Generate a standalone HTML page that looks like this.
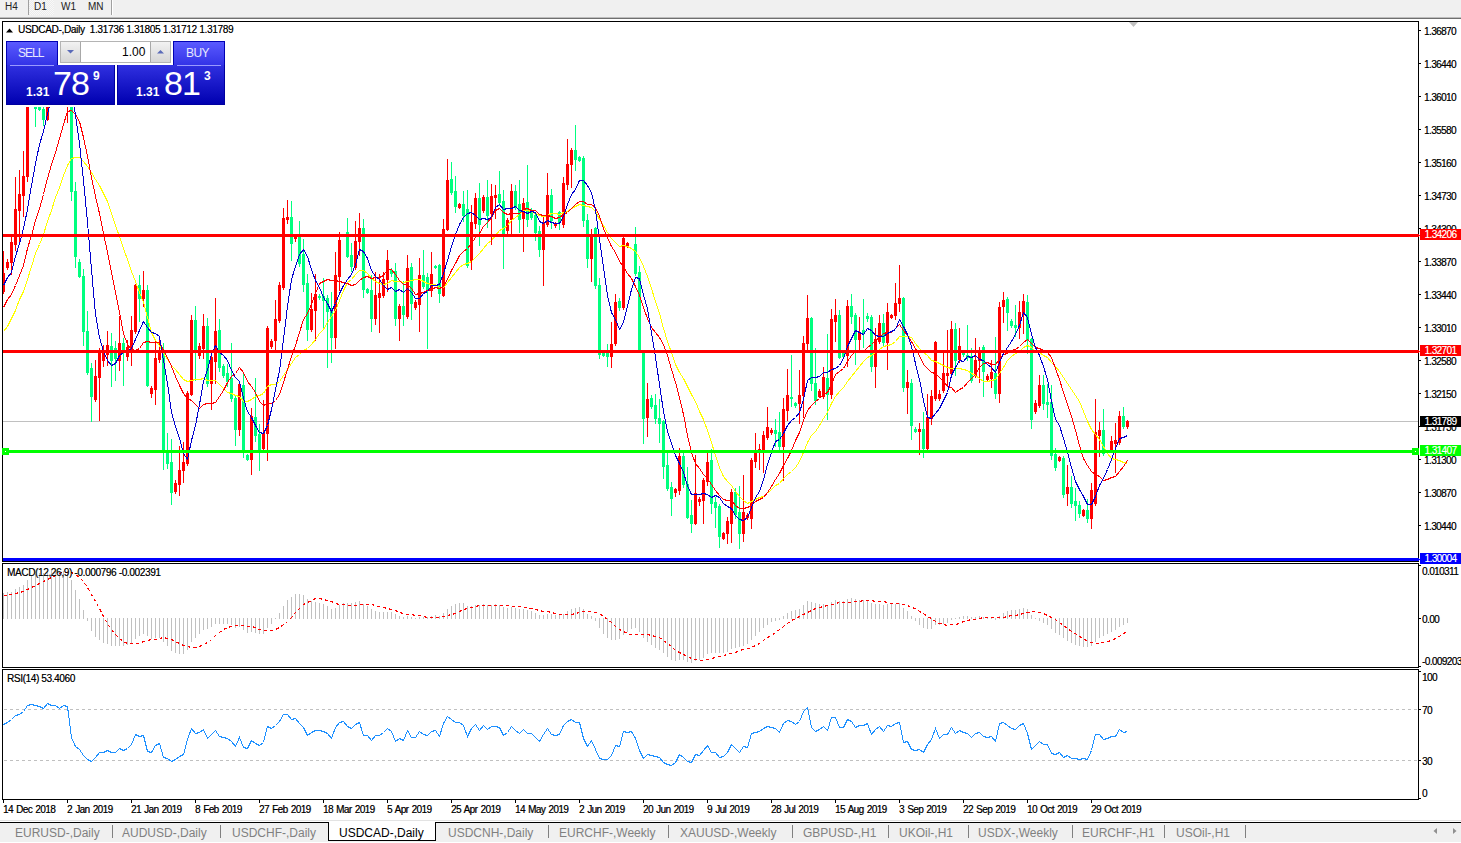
<!DOCTYPE html>
<html><head><meta charset="utf-8">
<style>
*{margin:0;padding:0;box-sizing:border-box}
html,body{width:1461px;height:843px;overflow:hidden;background:#fff}
body{position:relative;font-family:"Liberation Sans",Arial,sans-serif;color:#000}
.a{position:absolute;white-space:nowrap}
.t{position:absolute;white-space:nowrap;font-size:10px;line-height:10px;letter-spacing:-0.5px;text-shadow:0.35px 0 0 rgba(0,0,0,0.55)}
#tb{left:0;top:0;width:1461px;height:17px;background:#f0f0f0}
.tbt{position:absolute;top:2px;font-size:10px;line-height:10px;color:#222}
.ax{position:absolute;left:1424px;font-size:10px;line-height:10px;letter-spacing:-0.6px;color:#000;text-shadow:0.35px 0 0 rgba(0,0,0,0.55)}
.lb{position:absolute;left:1420px;width:41px;height:11px}
.lb span{position:absolute;left:4.5px;top:1px;font-size:10px;line-height:10px;letter-spacing:-0.6px;color:#fff;text-shadow:0.3px 0 0 rgba(255,255,255,0.5)}
.tm{position:absolute;top:805px;font-size:10px;line-height:10px;letter-spacing:-0.6px;word-spacing:1px;color:#000;text-shadow:0.35px 0 0 rgba(0,0,0,0.55)}
.tab{position:absolute;top:827px;font-size:12px;line-height:12px;color:#808080}
.sep{position:absolute;top:825px;width:1px;height:13px;background:#808080}
</style></head><body>
<!-- toolbar -->
<div class="a" id="tb"></div>
<div class="a" style="left:28px;top:0;width:1px;height:15px;background:#a0a0a0"></div>
<div class="a" style="left:29px;top:0;width:25px;height:15px;background:repeating-conic-gradient(#f8f8f8 0 25%,#ececec 0 50%) 0 0/2px 2px"></div>
<div class="a" style="left:111px;top:0;width:1px;height:15px;background:#a0a0a0"></div>
<div class="a" style="left:112px;top:0;width:1px;height:15px;background:#fff"></div>
<div class="tbt" style="left:5px">H4</div>
<div class="tbt" style="left:34px">D1</div>
<div class="tbt" style="left:61px">W1</div>
<div class="tbt" style="left:88px">MN</div>
<div class="a" style="left:0;top:17px;width:1461px;height:1px;background:#bdbdbd"></div>
<div class="a" style="left:0;top:18px;width:1461px;height:1px;background:#6f6f6f"></div>

<!-- window borders -->
<div class="a" style="left:2px;top:21px;width:1417px;height:541px;border:1px solid #000"></div>
<div class="a" style="left:2px;top:563px;width:1417px;height:105px;border:1px solid #000"></div>
<div class="a" style="left:2px;top:669px;width:1417px;height:131px;border:1px solid #000"></div>

<svg width="1461" height="843" viewBox="0 0 1461 843" style="position:absolute;left:0;top:0">
<defs><clipPath id="cm"><rect x="3" y="22" width="1415" height="539"/></clipPath>
<clipPath id="cmacd"><rect x="3" y="564" width="1415" height="103"/></clipPath>
<clipPath id="crsi"><rect x="3" y="670" width="1415" height="129"/></clipPath></defs>
<g shape-rendering="crispEdges">
<rect x="3" y="421" width="1415" height="1" fill="#c0c0c0"/>
<g clip-path="url(#cm)">
<path d="M31 90h1v17h-1zM30 103h3v3h-3zM35 92h1v35h-1zM34 100h3v9h-3zM39 100h1v11h-1zM38 107h3v3h-3zM43 106h1v20h-1zM42 109h3v11h-3zM51 60h1v26h-1zM50 70h3v8h-3zM59 66h1v27h-1zM58 73h3v11h-3zM71 55h1v146h-1zM70 64h3v128h-3zM75 182h1v86h-1zM74 191h3v66h-3zM79 259h1v19h-1zM78 262h3v15h-3zM83 269h1v77h-1zM82 276h3v56h-3zM87 311h1v64h-1zM86 331h3v42h-3zM91 363h1v59h-1zM90 368h3v29h-3zM111 333h1v54h-1zM110 346h3v15h-3zM115 341h1v40h-1zM114 348h3v11h-3zM123 338h1v48h-1zM122 343h3v10h-3zM139 275h1v47h-1zM138 285h3v14h-3zM147 285h1v102h-1zM146 290h3v96h-3zM163 343h1v127h-1zM162 350h3v101h-3zM167 433h1v36h-1zM166 450h3v14h-3zM171 439h1v66h-1zM170 462h3v31h-3zM195 306h1v75h-1zM194 320h3v33h-3zM207 318h1v69h-1zM206 326h3v58h-3zM219 319h1v53h-1zM218 330h3v38h-3zM223 364h1v14h-1zM222 366h3v10h-3zM227 364h1v23h-1zM226 373h3v9h-3zM231 343h1v59h-1zM230 378h3v21h-3zM235 396h1v50h-1zM234 398h3v32h-3zM243 373h1v85h-1zM242 385h3v68h-3zM247 454h1v7h-1zM246 455h3v5h-3zM255 378h1v64h-1zM254 417h3v19h-3zM259 424h1v47h-1zM258 434h3v16h-3zM291 201h1v60h-1zM290 217h3v27h-3zM299 221h1v46h-1zM298 237h3v27h-3zM303 239h1v53h-1zM302 254h3v31h-3zM307 274h1v67h-1zM306 283h3v47h-3zM319 294h1v6h-1zM318 296h3v2h-3zM323 278h1v50h-1zM322 296h3v5h-3zM327 295h1v73h-1zM326 298h3v14h-3zM331 292h1v71h-1zM330 310h3v28h-3zM343 234h1v3h-1zM342 235h3v1h-3zM347 218h1v40h-1zM346 232h3v25h-3zM351 243h1v29h-1zM350 255h3v12h-3zM363 219h1v79h-1zM362 228h3v62h-3zM367 288h1v6h-1zM366 289h3v4h-3zM371 275h1v57h-1zM370 290h3v29h-3zM391 268h1v9h-1zM390 270h3v4h-3zM395 263h1v63h-1zM394 271h3v48h-3zM403 281h1v45h-1zM402 306h3v9h-3zM411 263h1v57h-1zM410 267h3v37h-3zM423 250h1v39h-1zM422 275h3v12h-3zM427 273h1v76h-1zM426 277h3v14h-3zM435 265h1v4h-1zM434 266h3v2h-3zM439 264h1v39h-1zM438 265h3v29h-3zM451 162h1v33h-1zM450 179h3v14h-3zM455 176h1v37h-1zM454 191h3v16h-3zM463 191h1v31h-1zM462 204h3v12h-3zM467 190h1v78h-1zM466 209h3v57h-3zM479 183h1v63h-1zM478 198h3v27h-3zM487 180h1v48h-1zM486 197h3v19h-3zM499 171h1v35h-1zM498 194h3v9h-3zM503 190h1v79h-1zM502 201h3v34h-3zM515 185h1v25h-1zM514 191h3v16h-3zM519 180h1v53h-1zM518 204h3v16h-3zM527 165h1v62h-1zM526 202h3v18h-3zM531 208h1v12h-1zM530 210h3v8h-3zM535 212h1v29h-1zM534 215h3v18h-3zM539 226h1v31h-1zM538 231h3v19h-3zM551 189h1v40h-1zM550 195h3v26h-3zM559 211h1v19h-1zM558 212h3v11h-3zM575 125h1v46h-1zM574 150h3v10h-3zM579 156h1v6h-1zM578 157h3v4h-3zM583 156h1v71h-1zM582 158h3v63h-3zM587 214h1v54h-1zM586 220h3v39h-3zM595 227h1v62h-1zM594 228h3v58h-3zM599 278h1v81h-1zM598 285h3v70h-3zM603 352h1v5h-1zM602 353h3v3h-3zM607 344h1v23h-1zM606 352h3v5h-3zM619 298h1v13h-1zM618 301h3v7h-3zM631 234h1v3h-1zM630 235h3v1h-3zM635 227h1v49h-1zM634 244h3v30h-3zM639 266h1v87h-1zM638 272h3v79h-3zM643 350h1v94h-1zM642 350h3v69h-3zM651 395h1v14h-1zM650 398h3v9h-3zM655 394h1v30h-1zM654 405h3v14h-3zM659 399h1v44h-1zM658 418h3v6h-3zM663 420h1v59h-1zM662 421h3v46h-3zM667 453h1v38h-1zM666 465h3v24h-3zM671 482h1v34h-1zM670 487h3v12h-3zM683 451h1v37h-1zM682 456h3v29h-3zM687 467h1v52h-1zM686 484h3v34h-3zM691 500h1v33h-1zM690 515h3v9h-3zM711 449h1v65h-1zM710 460h3v44h-3zM715 497h1v31h-1zM714 502h3v6h-3zM719 504h1v44h-1zM718 506h3v31h-3zM735 488h1v31h-1zM734 492h3v23h-3zM739 486h1v63h-1zM738 512h3v22h-3zM775 419h1v28h-1zM774 430h3v4h-3zM779 412h1v38h-1zM778 432h3v15h-3zM791 355h1v52h-1zM790 397h3v2h-3zM795 402h1v6h-1zM794 403h3v3h-3zM811 317h1v74h-1zM810 318h3v66h-3zM815 348h1v57h-1zM814 383h3v18h-3zM827 334h1v86h-1zM826 378h3v17h-3zM839 310h1v49h-1zM838 315h3v43h-3zM843 352h1v7h-1zM842 353h3v4h-3zM851 294h1v30h-1zM850 306h3v11h-3zM855 313h1v52h-1zM854 315h3v25h-3zM863 299h1v49h-1zM862 330h3v3h-3zM867 313h1v9h-1zM866 316h3v3h-3zM871 315h1v57h-1zM870 317h3v50h-3zM883 314h1v32h-1zM882 323h3v20h-3zM903 297h1v95h-1zM902 298h3v90h-3zM911 379h1v61h-1zM910 383h3v43h-3zM915 427h1v6h-1zM914 429h3v3h-3zM923 412h1v46h-1zM922 429h3v20h-3zM955 323h1v53h-1zM954 329h3v32h-3zM963 350h1v7h-1zM962 352h3v3h-3zM967 325h1v36h-1zM966 355h3v3h-3zM971 348h1v35h-1zM970 356h3v25h-3zM983 345h1v52h-1zM982 347h3v25h-3zM995 337h1v62h-1zM994 373h3v21h-3zM1007 297h1v34h-1zM1006 299h3v14h-3zM1011 319h1v9h-1zM1010 321h3v5h-3zM1015 305h1v32h-1zM1014 325h3v3h-3zM1027 295h1v59h-1zM1026 302h3v38h-3zM1031 338h1v91h-1zM1030 339h3v81h-3zM1043 375h1v35h-1zM1042 385h3v19h-3zM1047 384h1v34h-1zM1046 402h3v3h-3zM1051 385h1v75h-1zM1050 402h3v54h-3zM1055 448h1v23h-1zM1054 454h3v14h-3zM1063 456h1v42h-1zM1062 458h3v37h-3zM1071 476h1v32h-1zM1070 487h3v17h-3zM1075 488h1v33h-1zM1074 501h3v5h-3zM1079 501h1v17h-1zM1078 505h3v9h-3zM1087 499h1v24h-1zM1086 510h3v9h-3zM1103 409h1v47h-1zM1102 430h3v24h-3zM1107 450h1v3h-1zM1106 451h3v1h-3zM1123 407h1v22h-1zM1122 416h3v11h-3z" fill="#00ff7f"/>
<path d="M3 251h1v43h-1zM2 273h3v19h-3zM7 259h1v11h-1zM6 262h3v6h-3zM11 237h1v38h-1zM10 242h3v21h-3zM15 177h1v74h-1zM14 209h3v36h-3zM19 170h1v72h-1zM18 194h3v17h-3zM23 151h1v66h-1zM22 176h3v20h-3zM27 98h1v84h-1zM26 106h3v71h-3zM47 62h1v59h-1zM46 70h3v50h-3zM55 65h1v24h-1zM54 73h3v5h-3zM63 52h1v39h-1zM62 61h3v23h-3zM67 50h1v73h-1zM66 64h3v32h-3zM95 360h1v42h-1zM94 376h3v24h-3zM99 348h1v73h-1zM98 350h3v28h-3zM103 345h1v22h-1zM102 353h3v8h-3zM107 331h1v35h-1zM106 345h3v10h-3zM119 316h1v55h-1zM118 343h3v18h-3zM127 340h1v21h-1zM126 347h3v10h-3zM131 316h1v50h-1zM130 330h3v21h-3zM135 284h1v50h-1zM134 285h3v47h-3zM143 271h1v36h-1zM142 290h3v9h-3zM151 386h1v12h-1zM150 388h3v6h-3zM155 341h1v64h-1zM154 358h3v32h-3zM159 340h1v23h-1zM158 350h3v10h-3zM175 480h1v14h-1zM174 483h3v9h-3zM179 446h1v50h-1zM178 470h3v15h-3zM183 442h1v41h-1zM182 462h3v9h-3zM187 391h1v75h-1zM186 393h3v71h-3zM191 315h1v81h-1zM190 320h3v75h-3zM199 343h1v16h-1zM198 346h3v10h-3zM203 314h1v45h-1zM202 326h3v23h-3zM211 353h1v57h-1zM210 357h3v27h-3zM215 298h1v86h-1zM214 331h3v31h-3zM239 383h1v53h-1zM238 384h3v46h-3zM251 408h1v67h-1zM250 416h3v44h-3zM263 400h1v51h-1zM262 433h3v16h-3zM267 326h1v135h-1zM266 328h3v106h-3zM271 339h1v10h-1zM270 341h3v6h-3zM275 300h1v50h-1zM274 319h3v22h-3zM279 282h1v41h-1zM278 285h3v36h-3zM283 208h1v82h-1zM282 218h3v70h-3zM287 200h1v24h-1zM286 217h3v3h-3zM295 234h1v8h-1zM294 236h3v3h-3zM311 293h1v39h-1zM310 309h3v21h-3zM315 274h1v67h-1zM314 294h3v17h-3zM335 252h1v97h-1zM334 275h3v63h-3zM339 232h1v59h-1zM338 240h3v37h-3zM355 221h1v49h-1zM354 241h3v27h-3zM359 213h1v43h-1zM358 228h3v14h-3zM375 272h1v53h-1zM374 295h3v24h-3zM379 274h1v59h-1zM378 293h3v5h-3zM383 272h1v26h-1zM382 279h3v17h-3zM387 250h1v42h-1zM386 260h3v20h-3zM399 304h1v37h-1zM398 306h3v13h-3zM407 255h1v64h-1zM406 268h3v49h-3zM415 300h1v10h-1zM414 302h3v6h-3zM419 258h1v74h-1zM418 275h3v30h-3zM431 252h1v45h-1zM430 274h3v17h-3zM443 219h1v78h-1zM442 229h3v67h-3zM447 159h1v72h-1zM446 180h3v50h-3zM459 203h1v6h-1zM458 204h3v4h-3zM471 205h1v65h-1zM470 222h3v39h-3zM475 193h1v36h-1zM474 198h3v26h-3zM483 195h1v18h-1zM482 197h3v14h-3zM491 184h1v61h-1zM490 196h3v18h-3zM495 185h1v34h-1zM494 195h3v3h-3zM507 218h1v16h-1zM506 220h3v11h-3zM511 184h1v51h-1zM510 191h3v29h-3zM523 198h1v54h-1zM522 203h3v16h-3zM543 217h1v69h-1zM542 222h3v28h-3zM547 173h1v54h-1zM546 195h3v30h-3zM555 222h1v6h-1zM554 223h3v3h-3zM563 177h1v51h-1zM562 183h3v42h-3zM567 139h1v51h-1zM566 164h3v21h-3zM571 148h1v40h-1zM570 150h3v15h-3zM591 229h1v53h-1zM590 235h3v24h-3zM611 322h1v46h-1zM610 344h3v13h-3zM615 294h1v52h-1zM614 302h3v42h-3zM623 237h1v73h-1zM622 238h3v70h-3zM627 242h1v6h-1zM626 243h3v4h-3zM647 383h1v54h-1zM646 399h3v19h-3zM675 488h1v9h-1zM674 489h3v4h-3zM679 448h1v47h-1zM678 456h3v35h-3zM695 455h1v70h-1zM694 493h3v31h-3zM699 497h1v9h-1zM698 499h3v3h-3zM703 478h1v46h-1zM702 480h3v21h-3zM707 452h1v34h-1zM706 462h3v20h-3zM723 532h1v8h-1zM722 533h3v6h-3zM727 517h1v27h-1zM726 521h3v13h-3zM731 489h1v54h-1zM730 492h3v32h-3zM743 475h1v67h-1zM742 512h3v22h-3zM747 513h1v7h-1zM746 515h3v3h-3zM751 458h1v71h-1zM750 460h3v59h-3zM755 433h1v35h-1zM754 451h3v11h-3zM759 444h1v26h-1zM758 449h3v3h-3zM763 431h1v42h-1zM762 435h3v17h-3zM767 407h1v33h-1zM766 427h3v11h-3zM771 428h1v7h-1zM770 430h3v3h-3zM783 398h1v83h-1zM782 409h3v38h-3zM787 369h1v52h-1zM786 395h3v16h-3zM799 370h1v54h-1zM798 395h3v9h-3zM803 336h1v82h-1zM802 343h3v53h-3zM807 295h1v56h-1zM806 318h3v26h-3zM819 389h1v9h-1zM818 391h3v6h-3zM823 367h1v32h-1zM822 377h3v20h-3zM831 309h1v90h-1zM830 319h3v76h-3zM835 299h1v43h-1zM834 315h3v7h-3zM847 300h1v67h-1zM846 306h3v50h-3zM859 317h1v33h-1zM858 332h3v8h-3zM875 328h1v60h-1zM874 339h3v28h-3zM879 315h1v29h-1zM878 323h3v19h-3zM887 303h1v67h-1zM886 312h3v31h-3zM891 314h1v5h-1zM890 315h3v3h-3zM895 283h1v37h-1zM894 303h3v13h-3zM899 265h1v47h-1zM898 298h3v6h-3zM907 370h1v44h-1zM906 382h3v6h-3zM919 423h1v32h-1zM918 429h3v3h-3zM927 394h1v56h-1zM926 417h3v32h-3zM931 390h1v35h-1zM930 396h3v23h-3zM935 341h1v60h-1zM934 342h3v57h-3zM939 390h1v11h-1zM938 394h3v5h-3zM943 353h1v40h-1zM942 373h3v18h-3zM947 330h1v57h-1zM946 373h3v3h-3zM951 321h1v55h-1zM950 329h3v45h-3zM959 328h1v35h-1zM958 346h3v14h-3zM975 338h1v40h-1zM974 360h3v16h-3zM979 347h1v36h-1zM978 353h3v8h-3zM987 374h1v8h-1zM986 376h3v4h-3zM991 360h1v28h-1zM990 372h3v7h-3zM999 302h1v101h-1zM998 307h3v87h-3zM1003 292h1v31h-1zM1002 300h3v7h-3zM1019 301h1v38h-1zM1018 312h3v16h-3zM1023 294h1v40h-1zM1022 301h3v13h-3zM1035 400h1v14h-1zM1034 403h3v9h-3zM1039 375h1v33h-1zM1038 385h3v21h-3zM1059 456h1v6h-1zM1058 457h3v4h-3zM1067 465h1v41h-1zM1066 487h3v7h-3zM1083 509h1v8h-1zM1082 510h3v6h-3zM1091 483h1v46h-1zM1090 490h3v29h-3zM1095 399h1v107h-1zM1094 432h3v72h-3zM1099 422h1v35h-1zM1098 430h3v6h-3zM1111 436h1v17h-1zM1110 441h3v10h-3zM1115 423h1v50h-1zM1114 440h3v4h-3zM1119 411h1v34h-1zM1118 416h3v27h-3zM1127 420h1v9h-1zM1126 421h3v6h-3z" fill="#ff0000"/>
<polyline points="3.5,331.5 7.5,326.5 11.5,318.5 15.5,310.5 19.5,299.5 23.5,291.5 27.5,279.5 31.5,266.5 35.5,253.5 39.5,244.5 43.5,234.5 47.5,221.5 51.5,210.5 55.5,197.5 59.5,187.5 63.5,175.5 67.5,165.5 71.5,158.5 75.5,157.5 79.5,157.5 83.5,161.5 87.5,166.5 91.5,172.5 95.5,179.5 99.5,185.5 103.5,193.5 107.5,201.5 111.5,213.5 115.5,225.5 119.5,236.5 123.5,248.5 127.5,259.5 131.5,271.5 135.5,281.5 139.5,292.5 143.5,302.5 147.5,317.5 151.5,332.5 155.5,340.5 159.5,345.5 163.5,353.5 167.5,359.5 171.5,365.5 175.5,369.5 179.5,374.5 183.5,379.5 187.5,381.5 191.5,380.5 195.5,379.5 199.5,379.5 203.5,378.5 207.5,380.5 211.5,380.5 215.5,380.5 219.5,384.5 223.5,388.5 227.5,392.5 231.5,393.5 235.5,395.5 239.5,396.5 243.5,401.5 247.5,401.5 251.5,399.5 255.5,396.5 259.5,395.5 263.5,393.5 267.5,386.5 271.5,384.5 275.5,384.5 279.5,381.5 283.5,375.5 287.5,369.5 291.5,363.5 295.5,357.5 299.5,354.5 303.5,350.5 307.5,348.5 311.5,344.5 315.5,339.5 319.5,333.5 323.5,329.5 327.5,322.5 331.5,316.5 335.5,310.5 339.5,300.5 343.5,290.5 347.5,282.5 351.5,279.5 355.5,274.5 359.5,270.5 363.5,270.5 367.5,273.5 371.5,278.5 375.5,281.5 379.5,283.5 383.5,284.5 387.5,283.5 391.5,280.5 395.5,281.5 399.5,281.5 403.5,282.5 407.5,281.5 411.5,280.5 415.5,279.5 419.5,279.5 423.5,281.5 427.5,283.5 431.5,284.5 435.5,284.5 439.5,287.5 443.5,287.5 447.5,282.5 451.5,277.5 455.5,272.5 459.5,267.5 463.5,264.5 467.5,263.5 471.5,261.5 475.5,257.5 479.5,253.5 483.5,248.5 487.5,243.5 491.5,240.5 495.5,235.5 499.5,230.5 503.5,228.5 507.5,225.5 511.5,220.5 515.5,217.5 519.5,214.5 523.5,210.5 527.5,210.5 531.5,211.5 535.5,213.5 539.5,215.5 543.5,216.5 547.5,215.5 551.5,213.5 555.5,213.5 559.5,214.5 563.5,212.5 567.5,211.5 571.5,208.5 575.5,206.5 579.5,204.5 583.5,205.5 587.5,206.5 591.5,207.5 595.5,211.5 599.5,219.5 603.5,225.5 607.5,232.5 611.5,238.5 615.5,242.5 619.5,246.5 623.5,245.5 627.5,246.5 631.5,248.5 635.5,251.5 639.5,257.5 643.5,266.5 647.5,276.5 651.5,288.5 655.5,301.5 659.5,313.5 663.5,328.5 667.5,341.5 671.5,352.5 675.5,364.5 679.5,372.5 683.5,378.5 687.5,386.5 691.5,394.5 695.5,401.5 699.5,411.5 703.5,419.5 707.5,430.5 711.5,442.5 715.5,455.5 719.5,467.5 723.5,476.5 727.5,481.5 731.5,485.5 735.5,491.5 739.5,496.5 743.5,500.5 747.5,503.5 751.5,501.5 755.5,499.5 759.5,497.5 763.5,496.5 767.5,493.5 771.5,489.5 775.5,485.5 779.5,483.5 783.5,478.5 787.5,474.5 791.5,471.5 795.5,467.5 799.5,461.5 803.5,452.5 807.5,442.5 811.5,435.5 815.5,431.5 819.5,425.5 823.5,418.5 827.5,412.5 831.5,403.5 835.5,396.5 839.5,391.5 843.5,387.5 847.5,381.5 851.5,376.5 855.5,371.5 859.5,366.5 863.5,361.5 867.5,357.5 871.5,355.5 875.5,352.5 879.5,349.5 883.5,346.5 887.5,345.5 891.5,344.5 895.5,341.5 899.5,336.5 903.5,336.5 907.5,336.5 911.5,337.5 915.5,343.5 919.5,348.5 923.5,352.5 927.5,355.5 931.5,360.5 935.5,361.5 939.5,363.5 943.5,365.5 947.5,367.5 951.5,368.5 955.5,368.5 959.5,368.5 963.5,369.5 967.5,370.5 971.5,373.5 975.5,375.5 979.5,378.5 983.5,381.5 987.5,381.5 991.5,380.5 995.5,379.5 999.5,373.5 1003.5,367.5 1007.5,360.5 1011.5,356.5 1015.5,353.5 1019.5,351.5 1023.5,347.5 1027.5,345.5 1031.5,347.5 1035.5,351.5 1039.5,352.5 1043.5,355.5 1047.5,357.5 1051.5,362.5 1055.5,366.5 1059.5,371.5 1063.5,377.5 1067.5,383.5 1071.5,389.5 1075.5,395.5 1079.5,401.5 1083.5,411.5 1087.5,421.5 1091.5,429.5 1095.5,434.5 1099.5,439.5 1103.5,446.5 1107.5,453.5 1111.5,458.5 1115.5,459.5 1119.5,460.5 1123.5,462.5 1127.5,463.5" fill="none" stroke="#ffff00" stroke-width="1"/>
<polyline points="3.5,307.5 7.5,299.5 11.5,294.5 15.5,285.5 19.5,275.5 23.5,265.5 27.5,248.5 31.5,235.5 35.5,220.5 39.5,208.5 43.5,194.5 47.5,178.5 51.5,164.5 55.5,152.5 59.5,138.5 63.5,124.5 67.5,111.5 71.5,110.5 75.5,114.5 79.5,121.5 83.5,137.5 87.5,156.5 91.5,177.5 95.5,196.5 99.5,213.5 103.5,233.5 107.5,252.5 111.5,272.5 115.5,292.5 119.5,312.5 123.5,333.5 127.5,344.5 131.5,349.5 135.5,350.5 139.5,348.5 143.5,342.5 147.5,341.5 151.5,342.5 155.5,342.5 159.5,342.5 163.5,350.5 167.5,357.5 171.5,366.5 175.5,376.5 179.5,385.5 183.5,393.5 187.5,398.5 191.5,400.5 195.5,404.5 199.5,408.5 203.5,404.5 207.5,403.5 211.5,403.5 215.5,402.5 219.5,396.5 223.5,390.5 227.5,382.5 231.5,376.5 235.5,373.5 239.5,367.5 243.5,372.5 247.5,381.5 251.5,386.5 255.5,392.5 259.5,401.5 263.5,405.5 267.5,403.5 271.5,403.5 275.5,400.5 279.5,394.5 283.5,382.5 287.5,369.5 291.5,356.5 295.5,345.5 299.5,332.5 303.5,319.5 307.5,313.5 311.5,304.5 315.5,293.5 319.5,283.5 323.5,281.5 327.5,279.5 331.5,280.5 335.5,280.5 339.5,281.5 343.5,282.5 347.5,283.5 351.5,285.5 355.5,284.5 359.5,280.5 363.5,277.5 367.5,276.5 371.5,278.5 375.5,277.5 379.5,277.5 383.5,275.5 387.5,269.5 391.5,269.5 395.5,274.5 399.5,280.5 403.5,284.5 407.5,284.5 411.5,288.5 415.5,294.5 419.5,293.5 423.5,292.5 427.5,290.5 431.5,289.5 435.5,287.5 439.5,288.5 443.5,286.5 447.5,279.5 451.5,270.5 455.5,263.5 459.5,255.5 463.5,251.5 467.5,248.5 471.5,243.5 475.5,237.5 479.5,233.5 483.5,226.5 487.5,222.5 491.5,217.5 495.5,210.5 499.5,208.5 503.5,212.5 507.5,214.5 511.5,213.5 515.5,213.5 519.5,213.5 523.5,209.5 527.5,208.5 531.5,210.5 535.5,210.5 539.5,214.5 543.5,215.5 547.5,215.5 551.5,216.5 555.5,218.5 559.5,217.5 563.5,214.5 567.5,212.5 571.5,208.5 575.5,204.5 579.5,201.5 583.5,201.5 587.5,204.5 591.5,204.5 595.5,207.5 599.5,216.5 603.5,228.5 607.5,237.5 611.5,246.5 615.5,252.5 619.5,261.5 623.5,266.5 627.5,273.5 631.5,278.5 635.5,286.5 639.5,295.5 643.5,307.5 647.5,318.5 651.5,327.5 655.5,332.5 659.5,337.5 663.5,344.5 667.5,355.5 671.5,369.5 675.5,382.5 679.5,397.5 683.5,414.5 687.5,435.5 691.5,452.5 695.5,463.5 699.5,468.5 703.5,474.5 707.5,478.5 711.5,484.5 715.5,490.5 719.5,495.5 723.5,499.5 727.5,500.5 731.5,500.5 735.5,505.5 739.5,508.5 743.5,508.5 747.5,507.5 751.5,505.5 755.5,501.5 759.5,499.5 763.5,497.5 767.5,492.5 771.5,486.5 775.5,479.5 779.5,473.5 783.5,465.5 787.5,458.5 791.5,450.5 795.5,440.5 799.5,432.5 803.5,420.5 807.5,410.5 811.5,405.5 815.5,401.5 819.5,398.5 823.5,394.5 827.5,392.5 831.5,384.5 835.5,374.5 839.5,371.5 843.5,368.5 847.5,361.5 851.5,355.5 855.5,351.5 859.5,350.5 863.5,351.5 867.5,347.5 871.5,344.5 875.5,340.5 879.5,337.5 883.5,333.5 887.5,332.5 891.5,332.5 895.5,328.5 899.5,324.5 903.5,330.5 907.5,335.5 911.5,341.5 915.5,348.5 919.5,355.5 923.5,364.5 927.5,368.5 931.5,372.5 935.5,373.5 939.5,377.5 943.5,381.5 947.5,386.5 951.5,387.5 955.5,392.5 959.5,389.5 963.5,387.5 967.5,382.5 971.5,378.5 975.5,374.5 979.5,367.5 983.5,363.5 987.5,362.5 991.5,364.5 995.5,364.5 999.5,359.5 1003.5,354.5 1007.5,353.5 1011.5,350.5 1015.5,349.5 1019.5,346.5 1023.5,342.5 1027.5,339.5 1031.5,343.5 1035.5,347.5 1039.5,348.5 1043.5,350.5 1047.5,352.5 1051.5,357.5 1055.5,368.5 1059.5,379.5 1063.5,392.5 1067.5,404.5 1071.5,416.5 1075.5,430.5 1079.5,445.5 1083.5,458.5 1087.5,465.5 1091.5,471.5 1095.5,474.5 1099.5,476.5 1103.5,480.5 1107.5,479.5 1111.5,477.5 1115.5,476.5 1119.5,471.5 1123.5,466.5 1127.5,460.5" fill="none" stroke="#ff0000" stroke-width="1"/>
<polyline points="3.5,285.5 7.5,277.5 11.5,272.5 15.5,256.5 19.5,243.5 23.5,228.5 27.5,209.5 31.5,185.5 35.5,163.5 39.5,144.5 43.5,131.5 47.5,113.5 51.5,99.5 55.5,94.5 59.5,91.5 63.5,85.5 67.5,78.5 71.5,88.5 75.5,115.5 79.5,143.5 83.5,180.5 87.5,222.5 91.5,269.5 95.5,314.5 99.5,337.5 103.5,351.5 107.5,360.5 111.5,365.5 115.5,363.5 119.5,355.5 123.5,352.5 127.5,351.5 131.5,348.5 135.5,339.5 139.5,330.5 143.5,321.5 147.5,327.5 151.5,332.5 155.5,333.5 159.5,336.5 163.5,360.5 167.5,383.5 171.5,412.5 175.5,426.5 179.5,438.5 183.5,453.5 187.5,459.5 191.5,440.5 195.5,425.5 199.5,404.5 203.5,381.5 207.5,369.5 211.5,354.5 215.5,345.5 219.5,352.5 223.5,355.5 227.5,360.5 231.5,370.5 235.5,377.5 239.5,381.5 243.5,398.5 247.5,411.5 251.5,417.5 255.5,425.5 259.5,432.5 263.5,433.5 267.5,425.5 271.5,409.5 275.5,389.5 279.5,370.5 283.5,339.5 287.5,306.5 291.5,279.5 295.5,266.5 299.5,254.5 303.5,249.5 307.5,256.5 311.5,269.5 315.5,280.5 319.5,287.5 323.5,297.5 327.5,303.5 331.5,311.5 335.5,303.5 339.5,293.5 343.5,285.5 347.5,279.5 351.5,274.5 355.5,264.5 359.5,249.5 363.5,251.5 367.5,258.5 371.5,270.5 375.5,276.5 379.5,279.5 383.5,285.5 387.5,289.5 391.5,287.5 395.5,291.5 399.5,289.5 403.5,292.5 407.5,288.5 411.5,292.5 415.5,298.5 419.5,298.5 423.5,293.5 427.5,291.5 431.5,285.5 435.5,285.5 439.5,284.5 443.5,273.5 447.5,260.5 451.5,246.5 455.5,234.5 459.5,224.5 463.5,217.5 467.5,213.5 471.5,212.5 475.5,215.5 479.5,219.5 483.5,218.5 487.5,219.5 491.5,217.5 495.5,207.5 499.5,204.5 503.5,209.5 507.5,208.5 511.5,208.5 515.5,206.5 519.5,210.5 523.5,211.5 527.5,213.5 531.5,211.5 535.5,212.5 539.5,221.5 543.5,223.5 547.5,220.5 551.5,222.5 555.5,223.5 559.5,223.5 563.5,216.5 567.5,204.5 571.5,194.5 575.5,189.5 579.5,180.5 583.5,180.5 587.5,185.5 591.5,192.5 595.5,210.5 599.5,239.5 603.5,267.5 607.5,295.5 611.5,312.5 615.5,319.5 619.5,329.5 623.5,322.5 627.5,306.5 631.5,289.5 635.5,277.5 639.5,278.5 643.5,295.5 647.5,308.5 651.5,332.5 655.5,357.5 659.5,384.5 663.5,411.5 667.5,431.5 671.5,443.5 675.5,455.5 679.5,463.5 683.5,472.5 687.5,485.5 691.5,494.5 695.5,494.5 699.5,494.5 703.5,493.5 707.5,494.5 711.5,497.5 715.5,495.5 719.5,497.5 723.5,503.5 727.5,506.5 731.5,508.5 735.5,515.5 739.5,519.5 743.5,520.5 747.5,517.5 751.5,507.5 755.5,497.5 759.5,491.5 763.5,479.5 767.5,464.5 771.5,452.5 775.5,441.5 779.5,439.5 783.5,433.5 787.5,425.5 791.5,420.5 795.5,417.5 799.5,412.5 803.5,399.5 807.5,380.5 811.5,377.5 815.5,377.5 819.5,376.5 823.5,372.5 827.5,372.5 831.5,369.5 835.5,368.5 839.5,365.5 843.5,358.5 847.5,346.5 851.5,338.5 855.5,330.5 859.5,332.5 863.5,334.5 867.5,328.5 871.5,330.5 875.5,335.5 879.5,336.5 883.5,336.5 887.5,333.5 891.5,331.5 895.5,329.5 899.5,319.5 903.5,326.5 907.5,334.5 911.5,346.5 915.5,363.5 919.5,379.5 923.5,400.5 927.5,417.5 931.5,418.5 935.5,413.5 939.5,408.5 943.5,400.5 947.5,392.5 951.5,375.5 955.5,367.5 959.5,360.5 963.5,361.5 967.5,356.5 971.5,357.5 975.5,355.5 979.5,359.5 983.5,360.5 987.5,364.5 991.5,367.5 995.5,372.5 999.5,362.5 1003.5,353.5 1007.5,347.5 1011.5,341.5 1015.5,334.5 1019.5,325.5 1023.5,312.5 1027.5,317.5 1031.5,334.5 1035.5,347.5 1039.5,355.5 1043.5,366.5 1047.5,379.5 1051.5,401.5 1055.5,419.5 1059.5,425.5 1063.5,438.5 1067.5,452.5 1071.5,467.5 1075.5,481.5 1079.5,489.5 1083.5,496.5 1087.5,504.5 1091.5,504.5 1095.5,496.5 1099.5,485.5 1103.5,478.5 1107.5,469.5 1111.5,459.5 1115.5,448.5 1119.5,438.5 1123.5,437.5 1127.5,435.5" fill="none" stroke="#0000cd" stroke-width="1"/>
</g>
<rect x="3" y="234" width="1416" height="3" fill="#ff0000"/><rect x="1419" y="235" width="1" height="1" fill="#ff0000"/>
<rect x="3" y="350" width="1416" height="3" fill="#ff0000"/><rect x="1419" y="351" width="1" height="1" fill="#ff0000"/>
<rect x="3" y="450" width="1416" height="3" fill="#00ff00"/>
<rect x="3" y="558" width="1416" height="3" fill="#0000ff"/><rect x="1419" y="559" width="1" height="1" fill="#0000ff"/>
<rect x="2" y="448" width="7" height="7" fill="#00ff00"/><rect x="5" y="451" width="1" height="1" fill="#fff"/>
<rect x="1412" y="448" width="7" height="7" fill="#00ff00"/><rect x="1415" y="451" width="1" height="1" fill="#fff"/>
<g clip-path="url(#cmacd)">
<path d="M3 593h1v26h-1zM7 592h1v27h-1zM11 592h1v27h-1zM15 589h1v30h-1zM19 587h1v32h-1zM23 585h1v34h-1zM27 580h1v39h-1zM31 576h1v43h-1zM35 574h1v45h-1zM39 573h1v46h-1zM43 573h1v46h-1zM47 571h1v48h-1zM51 570h1v49h-1zM55 570h1v49h-1zM59 571h1v48h-1zM63 571h1v48h-1zM67 572h1v47h-1zM71 580h1v39h-1zM75 590h1v29h-1zM79 599h1v20h-1zM83 610h1v9h-1zM87 618h1v3h-1zM91 618h1v13h-1zM95 618h1v19h-1zM99 618h1v22h-1zM103 618h1v25h-1zM107 618h1v26h-1zM111 618h1v28h-1zM115 618h1v28h-1zM119 618h1v28h-1zM123 618h1v28h-1zM127 618h1v27h-1zM131 618h1v25h-1zM135 618h1v21h-1zM139 618h1v18h-1zM143 618h1v16h-1zM147 618h1v18h-1zM151 618h1v21h-1zM155 618h1v20h-1zM159 618h1v20h-1zM163 618h1v24h-1zM167 618h1v28h-1zM171 618h1v33h-1zM175 618h1v35h-1zM179 618h1v36h-1zM183 618h1v36h-1zM187 618h1v32h-1zM191 618h1v24h-1zM195 618h1v20h-1zM199 618h1v16h-1zM203 618h1v12h-1zM207 618h1v11h-1zM211 618h1v9h-1zM215 618h1v6h-1zM219 618h1v6h-1zM223 618h1v6h-1zM227 618h1v6h-1zM231 618h1v7h-1zM235 618h1v10h-1zM239 618h1v9h-1zM243 618h1v12h-1zM247 618h1v15h-1zM251 618h1v14h-1zM255 618h1v15h-1zM259 618h1v16h-1zM263 618h1v16h-1zM267 618h1v10h-1zM271 618h1v6h-1zM275 618h1v1h-1zM279 613h1v6h-1zM283 606h1v13h-1zM287 600h1v19h-1zM291 597h1v22h-1zM295 594h1v25h-1zM299 594h1v25h-1zM303 595h1v24h-1zM307 599h1v20h-1zM311 601h1v18h-1zM315 602h1v17h-1zM319 603h1v16h-1zM323 604h1v15h-1zM327 606h1v13h-1zM331 609h1v10h-1zM335 608h1v11h-1zM339 605h1v14h-1zM343 603h1v16h-1zM347 603h1v16h-1zM351 603h1v16h-1zM355 602h1v17h-1zM359 601h1v18h-1zM363 604h1v15h-1zM367 606h1v13h-1zM371 609h1v10h-1zM375 611h1v8h-1zM379 612h1v7h-1zM383 612h1v7h-1zM387 612h1v7h-1zM391 612h1v7h-1zM395 614h1v5h-1zM399 616h1v3h-1zM403 617h1v2h-1zM407 616h1v3h-1zM411 617h1v2h-1zM415 618h1v1h-1zM419 617h1v2h-1zM423 617h1v2h-1zM427 617h1v2h-1zM431 616h1v3h-1zM435 615h1v4h-1zM439 616h1v3h-1zM443 613h1v6h-1zM447 609h1v10h-1zM451 606h1v13h-1zM455 604h1v15h-1zM459 603h1v16h-1zM463 603h1v16h-1zM467 606h1v13h-1zM471 606h1v13h-1zM475 605h1v14h-1zM479 605h1v14h-1zM483 604h1v15h-1zM487 605h1v14h-1zM491 605h1v14h-1zM495 604h1v15h-1zM499 605h1v14h-1zM503 607h1v12h-1zM507 608h1v11h-1zM511 607h1v12h-1zM515 608h1v11h-1zM519 609h1v10h-1zM523 609h1v10h-1zM527 610h1v9h-1zM531 611h1v8h-1zM535 613h1v6h-1zM539 615h1v4h-1zM543 615h1v4h-1zM547 614h1v5h-1zM551 614h1v5h-1zM555 615h1v4h-1zM559 615h1v4h-1zM563 614h1v5h-1zM567 611h1v8h-1zM571 609h1v10h-1zM575 608h1v11h-1zM579 607h1v12h-1zM583 609h1v10h-1zM587 614h1v5h-1zM591 616h1v3h-1zM595 618h1v3h-1zM599 618h1v10h-1zM603 618h1v16h-1zM607 618h1v20h-1zM611 618h1v22h-1zM615 618h1v22h-1zM619 618h1v21h-1zM623 618h1v17h-1zM627 618h1v14h-1zM631 618h1v11h-1zM635 618h1v10h-1zM639 618h1v14h-1zM643 618h1v20h-1zM647 618h1v24h-1zM651 618h1v27h-1zM655 618h1v30h-1zM659 618h1v32h-1zM663 618h1v35h-1zM667 618h1v39h-1zM671 618h1v42h-1zM675 618h1v43h-1zM679 618h1v42h-1zM683 618h1v42h-1zM687 618h1v44h-1zM691 618h1v45h-1zM695 618h1v43h-1zM699 618h1v42h-1zM703 618h1v40h-1zM707 618h1v36h-1zM711 618h1v35h-1zM715 618h1v35h-1zM719 618h1v35h-1zM723 618h1v35h-1zM727 618h1v34h-1zM731 618h1v31h-1zM735 618h1v30h-1zM739 618h1v29h-1zM743 618h1v28h-1zM747 618h1v26h-1zM751 618h1v22h-1zM755 618h1v18h-1zM759 618h1v14h-1zM763 618h1v10h-1zM767 618h1v7h-1zM771 618h1v4h-1zM775 618h1v3h-1zM779 618h1v2h-1zM783 616h1v3h-1zM787 613h1v6h-1zM791 611h1v8h-1zM795 610h1v9h-1zM799 609h1v10h-1zM803 605h1v14h-1zM807 601h1v18h-1zM811 602h1v17h-1zM815 603h1v16h-1zM819 604h1v15h-1zM823 604h1v15h-1zM827 605h1v14h-1zM831 602h1v17h-1zM835 600h1v19h-1zM839 601h1v18h-1zM843 601h1v18h-1zM847 599h1v20h-1zM851 598h1v21h-1zM855 599h1v20h-1zM859 600h1v19h-1zM863 600h1v19h-1zM867 600h1v19h-1zM871 603h1v16h-1zM875 604h1v15h-1zM879 604h1v15h-1zM883 605h1v14h-1zM887 604h1v15h-1zM891 604h1v15h-1zM895 604h1v15h-1zM899 603h1v16h-1zM903 608h1v11h-1zM907 611h1v8h-1zM911 616h1v3h-1zM915 618h1v3h-1zM919 618h1v7h-1zM923 618h1v10h-1zM927 618h1v11h-1zM931 618h1v11h-1zM935 618h1v7h-1zM939 618h1v7h-1zM943 618h1v6h-1zM947 618h1v5h-1zM951 618h1v2h-1zM955 618h1v1h-1zM959 617h1v2h-1zM963 616h1v3h-1zM967 616h1v3h-1zM971 617h1v2h-1zM975 617h1v2h-1zM979 616h1v3h-1zM983 617h1v2h-1zM987 617h1v2h-1zM991 618h1v1h-1zM995 618h1v2h-1zM999 616h1v3h-1zM1003 613h1v6h-1zM1007 611h1v8h-1zM1011 610h1v9h-1zM1015 610h1v9h-1zM1019 609h1v10h-1zM1023 608h1v11h-1zM1027 609h1v10h-1zM1031 615h1v4h-1zM1035 618h1v1h-1zM1039 618h1v3h-1zM1043 618h1v5h-1zM1047 618h1v7h-1zM1051 618h1v11h-1zM1055 618h1v15h-1zM1059 618h1v17h-1zM1063 618h1v20h-1zM1067 618h1v23h-1zM1071 618h1v25h-1zM1075 618h1v27h-1zM1079 618h1v28h-1zM1083 618h1v29h-1zM1087 618h1v29h-1zM1091 618h1v28h-1zM1095 618h1v24h-1zM1099 618h1v20h-1zM1103 618h1v18h-1zM1107 618h1v16h-1zM1111 618h1v14h-1zM1115 618h1v12h-1zM1119 618h1v9h-1zM1123 618h1v7h-1zM1127 618h1v5h-1z" fill="#c0c0c0"/>
<polyline points="3.5,595.5 7.5,595.5 11.5,594.5 15.5,593.5 19.5,592.5 23.5,591.5 27.5,589.5 31.5,587.5 35.5,585.5 39.5,583.5 43.5,581.5 47.5,579.5 51.5,577.5 55.5,575.5 59.5,573.5 63.5,572.5 67.5,572.5 71.5,572.5 75.5,574.5 79.5,577.5 83.5,581.5 87.5,587.5 91.5,594.5 95.5,601.5 99.5,608.5 103.5,616.5 107.5,623.5 111.5,629.5 115.5,634.5 119.5,638.5 123.5,641.5 127.5,643.5 131.5,643.5 135.5,643.5 139.5,643.5 143.5,641.5 147.5,640.5 151.5,639.5 155.5,639.5 159.5,638.5 163.5,637.5 167.5,638.5 171.5,639.5 175.5,641.5 179.5,643.5 183.5,645.5 187.5,646.5 191.5,647.5 195.5,647.5 199.5,646.5 203.5,644.5 207.5,642.5 211.5,639.5 215.5,635.5 219.5,632.5 223.5,629.5 227.5,627.5 231.5,626.5 235.5,625.5 239.5,625.5 243.5,625.5 247.5,626.5 251.5,626.5 255.5,627.5 259.5,629.5 263.5,630.5 267.5,630.5 271.5,630.5 275.5,629.5 279.5,627.5 283.5,624.5 287.5,621.5 291.5,617.5 295.5,612.5 299.5,608.5 303.5,604.5 307.5,602.5 311.5,600.5 315.5,598.5 319.5,598.5 323.5,599.5 327.5,600.5 331.5,601.5 335.5,603.5 339.5,604.5 343.5,604.5 347.5,605.5 351.5,605.5 355.5,605.5 359.5,604.5 363.5,604.5 367.5,604.5 371.5,604.5 375.5,605.5 379.5,606.5 383.5,607.5 387.5,608.5 391.5,609.5 395.5,610.5 399.5,612.5 403.5,613.5 407.5,614.5 411.5,614.5 415.5,615.5 419.5,615.5 423.5,616.5 427.5,617.5 431.5,617.5 435.5,617.5 439.5,617.5 443.5,616.5 447.5,615.5 451.5,614.5 455.5,613.5 459.5,611.5 463.5,609.5 467.5,608.5 471.5,607.5 475.5,606.5 479.5,605.5 483.5,605.5 487.5,605.5 491.5,605.5 495.5,605.5 499.5,605.5 503.5,605.5 507.5,605.5 511.5,606.5 515.5,606.5 519.5,606.5 523.5,607.5 527.5,607.5 531.5,608.5 535.5,609.5 539.5,610.5 543.5,611.5 547.5,611.5 551.5,612.5 555.5,613.5 559.5,614.5 563.5,614.5 567.5,614.5 571.5,614.5 575.5,613.5 579.5,612.5 583.5,611.5 587.5,611.5 591.5,611.5 595.5,612.5 599.5,613.5 603.5,616.5 607.5,619.5 611.5,622.5 615.5,626.5 619.5,629.5 623.5,631.5 627.5,633.5 631.5,634.5 635.5,634.5 639.5,634.5 643.5,634.5 647.5,634.5 651.5,635.5 655.5,636.5 659.5,637.5 663.5,640.5 667.5,643.5 671.5,646.5 675.5,650.5 679.5,652.5 683.5,654.5 687.5,656.5 691.5,658.5 695.5,659.5 699.5,660.5 703.5,660.5 707.5,659.5 711.5,658.5 715.5,657.5 719.5,656.5 723.5,655.5 727.5,654.5 731.5,653.5 735.5,652.5 739.5,650.5 743.5,649.5 747.5,648.5 751.5,647.5 755.5,645.5 759.5,643.5 763.5,640.5 767.5,637.5 771.5,635.5 775.5,632.5 779.5,629.5 783.5,626.5 787.5,623.5 791.5,620.5 795.5,618.5 799.5,616.5 803.5,614.5 807.5,612.5 811.5,610.5 815.5,608.5 819.5,607.5 823.5,606.5 827.5,605.5 831.5,604.5 835.5,603.5 839.5,602.5 843.5,602.5 847.5,602.5 851.5,602.5 855.5,601.5 859.5,601.5 863.5,600.5 867.5,600.5 871.5,600.5 875.5,601.5 879.5,601.5 883.5,601.5 887.5,602.5 891.5,603.5 895.5,603.5 899.5,603.5 903.5,604.5 907.5,605.5 911.5,607.5 915.5,608.5 919.5,611.5 923.5,613.5 927.5,616.5 931.5,618.5 935.5,621.5 939.5,623.5 943.5,624.5 947.5,625.5 951.5,624.5 955.5,624.5 959.5,623.5 963.5,621.5 967.5,620.5 971.5,619.5 975.5,619.5 979.5,618.5 983.5,617.5 987.5,617.5 991.5,617.5 995.5,617.5 999.5,617.5 1003.5,617.5 1007.5,616.5 1011.5,615.5 1015.5,615.5 1019.5,614.5 1023.5,613.5 1027.5,612.5 1031.5,611.5 1035.5,611.5 1039.5,612.5 1043.5,613.5 1047.5,615.5 1051.5,617.5 1055.5,619.5 1059.5,622.5 1063.5,625.5 1067.5,628.5 1071.5,631.5 1075.5,633.5 1079.5,636.5 1083.5,638.5 1087.5,641.5 1091.5,642.5 1095.5,643.5 1099.5,643.5 1103.5,642.5 1107.5,641.5 1111.5,640.5 1115.5,638.5 1119.5,636.5 1123.5,633.5 1127.5,631.5" fill="none" stroke="#ff0000" stroke-width="1" stroke-dasharray="3,3"/>
</g>
<g clip-path="url(#crsi)">
<rect x="3" y="709" width="1415" height="1" fill="none"/>
<line x1="4" y1="709.5" x2="1418" y2="709.5" stroke="#c0c0c0" stroke-dasharray="3,3"/>
<line x1="4" y1="760.5" x2="1418" y2="760.5" stroke="#c0c0c0" stroke-dasharray="3,3"/>
<polyline points="3.5,724.5 7.5,722.5 11.5,719.5 15.5,715.5 19.5,714.5 23.5,711.5 27.5,705.5 31.5,704.5 35.5,705.5 39.5,706.5 43.5,708.5 47.5,703.5 51.5,705.5 55.5,705.5 59.5,708.5 63.5,705.5 67.5,706.5 71.5,737.5 75.5,746.5 79.5,749.5 83.5,755.5 87.5,759.5 91.5,761.5 95.5,757.5 99.5,752.5 103.5,752.5 107.5,750.5 111.5,752.5 115.5,752.5 119.5,748.5 123.5,750.5 127.5,748.5 131.5,744.5 135.5,734.5 139.5,736.5 143.5,735.5 147.5,751.5 151.5,752.5 155.5,745.5 159.5,743.5 163.5,757.5 167.5,758.5 171.5,761.5 175.5,759.5 179.5,756.5 183.5,754.5 187.5,739.5 191.5,728.5 195.5,733.5 199.5,732.5 203.5,729.5 207.5,738.5 211.5,734.5 215.5,730.5 219.5,736.5 223.5,737.5 227.5,738.5 231.5,741.5 235.5,746.5 239.5,737.5 243.5,747.5 247.5,748.5 251.5,740.5 255.5,743.5 259.5,745.5 263.5,742.5 267.5,726.5 271.5,728.5 275.5,725.5 279.5,721.5 283.5,714.5 287.5,714.5 291.5,719.5 295.5,718.5 299.5,723.5 303.5,727.5 307.5,735.5 311.5,732.5 315.5,730.5 319.5,730.5 323.5,731.5 327.5,733.5 331.5,738.5 335.5,727.5 339.5,722.5 343.5,721.5 347.5,726.5 351.5,728.5 355.5,724.5 359.5,722.5 363.5,735.5 367.5,735.5 371.5,740.5 375.5,735.5 379.5,735.5 383.5,732.5 387.5,728.5 391.5,731.5 395.5,741.5 399.5,738.5 403.5,740.5 407.5,730.5 411.5,737.5 415.5,737.5 419.5,731.5 423.5,734.5 427.5,735.5 431.5,731.5 435.5,730.5 439.5,736.5 443.5,723.5 447.5,716.5 451.5,719.5 455.5,722.5 459.5,722.5 463.5,725.5 467.5,736.5 471.5,728.5 475.5,724.5 479.5,730.5 483.5,725.5 487.5,729.5 491.5,726.5 495.5,726.5 499.5,727.5 503.5,735.5 507.5,732.5 511.5,726.5 515.5,730.5 519.5,733.5 523.5,729.5 527.5,733.5 531.5,733.5 535.5,737.5 539.5,741.5 543.5,734.5 547.5,728.5 551.5,734.5 555.5,735.5 559.5,734.5 563.5,725.5 567.5,721.5 571.5,719.5 575.5,722.5 579.5,722.5 583.5,738.5 587.5,746.5 591.5,740.5 595.5,749.5 599.5,758.5 603.5,759.5 607.5,759.5 611.5,755.5 615.5,745.5 619.5,746.5 623.5,731.5 627.5,732.5 631.5,731.5 635.5,738.5 639.5,750.5 643.5,758.5 647.5,754.5 651.5,755.5 655.5,756.5 659.5,757.5 663.5,762.5 667.5,764.5 671.5,765.5 675.5,762.5 679.5,754.5 683.5,757.5 687.5,761.5 691.5,762.5 695.5,754.5 699.5,755.5 703.5,750.5 707.5,745.5 711.5,752.5 715.5,752.5 719.5,757.5 723.5,756.5 727.5,752.5 731.5,744.5 735.5,748.5 739.5,752.5 743.5,746.5 747.5,747.5 751.5,733.5 755.5,732.5 759.5,731.5 763.5,728.5 767.5,726.5 771.5,727.5 775.5,728.5 779.5,732.5 783.5,723.5 787.5,720.5 791.5,721.5 795.5,724.5 799.5,721.5 803.5,711.5 807.5,707.5 811.5,727.5 815.5,731.5 819.5,729.5 823.5,726.5 827.5,730.5 831.5,717.5 835.5,717.5 839.5,727.5 843.5,727.5 847.5,719.5 851.5,721.5 855.5,727.5 859.5,725.5 863.5,725.5 867.5,723.5 871.5,734.5 875.5,729.5 879.5,726.5 883.5,731.5 887.5,725.5 891.5,726.5 895.5,723.5 899.5,722.5 903.5,742.5 907.5,741.5 911.5,749.5 915.5,750.5 919.5,749.5 923.5,752.5 927.5,744.5 931.5,739.5 935.5,728.5 939.5,738.5 943.5,734.5 947.5,734.5 951.5,727.5 955.5,733.5 959.5,730.5 963.5,732.5 967.5,733.5 971.5,737.5 975.5,733.5 979.5,732.5 983.5,736.5 987.5,737.5 991.5,736.5 995.5,741.5 999.5,723.5 1003.5,722.5 1007.5,725.5 1011.5,728.5 1015.5,729.5 1019.5,725.5 1023.5,723.5 1027.5,733.5 1031.5,749.5 1035.5,745.5 1039.5,741.5 1043.5,744.5 1047.5,744.5 1051.5,753.5 1055.5,754.5 1059.5,752.5 1063.5,757.5 1067.5,755.5 1071.5,758.5 1075.5,758.5 1079.5,759.5 1083.5,758.5 1087.5,759.5 1091.5,750.5 1095.5,734.5 1099.5,734.5 1103.5,739.5 1107.5,738.5 1111.5,736.5 1115.5,736.5 1119.5,729.5 1123.5,732.5 1127.5,731.5" fill="none" stroke="#1e90ff" stroke-width="1"/>
</g>
</g>
</svg>

<!-- chart shift marker -->
<svg class="a" style="left:1128px;top:22px" width="11" height="6"><polygon points="1,0 10,0 5.5,5" fill="#c0c0c0"/></svg>

<div class="a" style="left:1419px;top:30px;width:2px;height:1px;background:#000"></div>
<div class="ax" style="top:27px">1.36870</div>
<div class="a" style="left:1419px;top:63px;width:2px;height:1px;background:#000"></div>
<div class="ax" style="top:60px">1.36440</div>
<div class="a" style="left:1419px;top:96px;width:2px;height:1px;background:#000"></div>
<div class="ax" style="top:93px">1.36010</div>
<div class="a" style="left:1419px;top:129px;width:2px;height:1px;background:#000"></div>
<div class="ax" style="top:126px">1.35580</div>
<div class="a" style="left:1419px;top:162px;width:2px;height:1px;background:#000"></div>
<div class="ax" style="top:159px">1.35160</div>
<div class="a" style="left:1419px;top:195px;width:2px;height:1px;background:#000"></div>
<div class="ax" style="top:192px">1.34730</div>
<div class="a" style="left:1419px;top:228px;width:2px;height:1px;background:#000"></div>
<div class="ax" style="top:225px">1.34300</div>
<div class="a" style="left:1419px;top:261px;width:2px;height:1px;background:#000"></div>
<div class="ax" style="top:258px">1.33870</div>
<div class="a" style="left:1419px;top:294px;width:2px;height:1px;background:#000"></div>
<div class="ax" style="top:291px">1.33440</div>
<div class="a" style="left:1419px;top:327px;width:2px;height:1px;background:#000"></div>
<div class="ax" style="top:324px">1.33010</div>
<div class="a" style="left:1419px;top:360px;width:2px;height:1px;background:#000"></div>
<div class="ax" style="top:357px">1.32580</div>
<div class="a" style="left:1419px;top:393px;width:2px;height:1px;background:#000"></div>
<div class="ax" style="top:390px">1.32150</div>
<div class="a" style="left:1419px;top:426px;width:2px;height:1px;background:#000"></div>
<div class="ax" style="top:423px">1.31730</div>
<div class="a" style="left:1419px;top:459px;width:2px;height:1px;background:#000"></div>
<div class="ax" style="top:456px">1.31300</div>
<div class="a" style="left:1419px;top:492px;width:2px;height:1px;background:#000"></div>
<div class="ax" style="top:489px">1.30870</div>
<div class="a" style="left:1419px;top:525px;width:2px;height:1px;background:#000"></div>
<div class="ax" style="top:522px">1.30440</div>
<div class="lb" style="top:229px;background:#ff0000"><span>1.34206</span></div>
<div class="lb" style="top:345px;background:#ff0000"><span>1.32701</span></div>
<div class="lb" style="top:416px;background:#000"><span>1.31789</span></div>
<div class="lb" style="top:445px;background:#00ff00"><span>1.31407</span></div>
<div class="lb" style="top:553px;background:#0000ff"><span>1.30004</span></div>
<div class="a" style="left:1419px;top:565px;width:2px;height:1px;background:#000"></div>
<div class="ax" style="left:1422px;top:567px">0.010311</div>
<div class="a" style="left:1419px;top:618px;width:2px;height:1px;background:#000"></div>
<div class="ax" style="left:1422px;top:615px">0.00</div>
<div class="a" style="left:1419px;top:666px;width:2px;height:1px;background:#000"></div>
<div class="ax" style="left:1422px;top:657px">-0.009203</div>
<div class="a" style="left:1419px;top:671px;width:2px;height:1px;background:#000"></div>
<div class="ax" style="left:1422px;top:673px">100</div>
<div class="a" style="left:1419px;top:709px;width:2px;height:1px;background:#000"></div>
<div class="ax" style="left:1422px;top:706px">70</div>
<div class="a" style="left:1419px;top:760px;width:2px;height:1px;background:#000"></div>
<div class="ax" style="left:1422px;top:757px">30</div>
<div class="a" style="left:1419px;top:798px;width:2px;height:1px;background:#000"></div>
<div class="ax" style="left:1422px;top:789px">0</div>
<div class="a" style="left:3px;top:800px;width:1px;height:3px;background:#000"></div>
<div class="tm" style="left:3px">14 Dec 2018</div>
<div class="a" style="left:67px;top:800px;width:1px;height:3px;background:#000"></div>
<div class="tm" style="left:67px">2 Jan 2019</div>
<div class="a" style="left:131px;top:800px;width:1px;height:3px;background:#000"></div>
<div class="tm" style="left:131px">21 Jan 2019</div>
<div class="a" style="left:195px;top:800px;width:1px;height:3px;background:#000"></div>
<div class="tm" style="left:195px">8 Feb 2019</div>
<div class="a" style="left:259px;top:800px;width:1px;height:3px;background:#000"></div>
<div class="tm" style="left:259px">27 Feb 2019</div>
<div class="a" style="left:323px;top:800px;width:1px;height:3px;background:#000"></div>
<div class="tm" style="left:323px">18 Mar 2019</div>
<div class="a" style="left:387px;top:800px;width:1px;height:3px;background:#000"></div>
<div class="tm" style="left:387px">5 Apr 2019</div>
<div class="a" style="left:451px;top:800px;width:1px;height:3px;background:#000"></div>
<div class="tm" style="left:451px">25 Apr 2019</div>
<div class="a" style="left:515px;top:800px;width:1px;height:3px;background:#000"></div>
<div class="tm" style="left:515px">14 May 2019</div>
<div class="a" style="left:579px;top:800px;width:1px;height:3px;background:#000"></div>
<div class="tm" style="left:579px">2 Jun 2019</div>
<div class="a" style="left:643px;top:800px;width:1px;height:3px;background:#000"></div>
<div class="tm" style="left:643px">20 Jun 2019</div>
<div class="a" style="left:707px;top:800px;width:1px;height:3px;background:#000"></div>
<div class="tm" style="left:707px">9 Jul 2019</div>
<div class="a" style="left:771px;top:800px;width:1px;height:3px;background:#000"></div>
<div class="tm" style="left:771px">28 Jul 2019</div>
<div class="a" style="left:835px;top:800px;width:1px;height:3px;background:#000"></div>
<div class="tm" style="left:835px">15 Aug 2019</div>
<div class="a" style="left:899px;top:800px;width:1px;height:3px;background:#000"></div>
<div class="tm" style="left:899px">3 Sep 2019</div>
<div class="a" style="left:963px;top:800px;width:1px;height:3px;background:#000"></div>
<div class="tm" style="left:963px">22 Sep 2019</div>
<div class="a" style="left:1027px;top:800px;width:1px;height:3px;background:#000"></div>
<div class="tm" style="left:1027px">10 Oct 2019</div>
<div class="a" style="left:1091px;top:800px;width:1px;height:3px;background:#000"></div>
<div class="tm" style="left:1091px">29 Oct 2019</div>

<!-- title -->
<svg class="a" style="left:6px;top:28px" width="8" height="5"><polygon points="0,4.5 7,4.5 3.5,0.5" fill="#000"/></svg>
<div class="t" style="left:18px;top:25px;letter-spacing:-0.3px">USDCAD-,Daily&nbsp;&nbsp;1.31736 1.31805 1.31712 1.31789</div>
<div class="t" style="left:7px;top:568px;letter-spacing:-0.35px">MACD(12,26,9) -0.000796 -0.002391</div>
<div class="t" style="left:7px;top:674px;letter-spacing:-0.37px">RSI(14) 53.4060</div>


<div class="a" style="left:6px;top:41px;width:220px;height:66px;background:#fff"></div>
<div class="a" style="left:6px;top:41px;width:52px;height:25px;background:linear-gradient(#5a5aff,#3232e6);border:1px solid #0000b4;border-bottom:none"></div>
<div class="a" style="left:6px;top:65px;width:109px;height:40px;background:linear-gradient(#3030e0,#0000b0);border:1px solid #0000a0;border-top:none"></div>
<div class="a" style="left:10px;top:65px;width:44px;height:1px;background:#9a9aff"></div>
<div class="a" style="left:18px;top:47px;font-size:12px;line-height:12px;letter-spacing:-1px;color:#e8e8ff">SELL</div>
<div class="a" style="left:173px;top:41px;width:52px;height:25px;background:linear-gradient(#5a5aff,#3232e6);border:1px solid #0000b4;border-bottom:none"></div>
<div class="a" style="left:117px;top:65px;width:108px;height:40px;background:linear-gradient(#3030e0,#0000b0);border:1px solid #0000a0;border-top:none"></div>
<div class="a" style="left:177px;top:65px;width:44px;height:1px;background:#9a9aff"></div>
<div class="a" style="left:186px;top:47px;font-size:12px;line-height:12px;letter-spacing:-0.6px;color:#e8e8ff">BUY</div>
<div class="a" style="left:60px;top:41px;width:111px;height:22px;background:#fff;border:1px solid #b4b4b4"></div>
<div class="a" style="left:61px;top:42px;width:20px;height:20px;background:linear-gradient(#f2f2f2,#d6d6d6);border-right:1px solid #a8a8a8"></div>
<div class="a" style="left:150px;top:42px;width:20px;height:20px;background:linear-gradient(#f2f2f2,#d6d6d6);border-left:1px solid #a8a8a8"></div>
<svg class="a" style="left:67px;top:50px" width="7" height="4"><polygon points="0,0 7,0 3.5,3.5" fill="#5a6ab8"/></svg>
<svg class="a" style="left:157px;top:50px" width="7" height="4"><polygon points="0,3.5 7,3.5 3.5,0" fill="#5a6ab8"/></svg>
<div class="a" style="left:122px;top:46px;font-size:12px;line-height:12px;color:#000">1.00</div>
<div class="a" style="left:26px;top:86px;font-size:12px;line-height:12px;font-weight:bold;color:#fff;letter-spacing:0px">1.31</div>
<div class="a" style="left:53px;top:66px;font-size:34px;line-height:34px;letter-spacing:-1px;color:#fff">78</div>
<div class="a" style="left:93px;top:70px;font-size:12px;line-height:12px;font-weight:bold;color:#fff">9</div>
<div class="a" style="left:136px;top:86px;font-size:12px;line-height:12px;font-weight:bold;color:#fff;letter-spacing:0px">1.31</div>
<div class="a" style="left:164px;top:66px;font-size:34px;line-height:34px;letter-spacing:-1px;color:#fff">81</div>
<div class="a" style="left:204px;top:70px;font-size:12px;line-height:12px;font-weight:bold;color:#fff">3</div>


<!-- bottom -->
<div class="a" style="left:0;top:820px;width:1461px;height:1px;background:#e3e3e3"></div>
<div class="a" style="left:0;top:822px;width:1461px;height:1px;background:#000"></div>
<div class="a" style="left:0;top:823px;width:1461px;height:19px;background:#f0f0f0"></div>
<div class="a" style="left:328px;top:822px;width:108px;height:19px;background:#fff;border:1px solid #000;border-top:none"></div>
<div class="tab" style="left:15px;color:#808080">EURUSD-,Daily</div>
<div class="sep" style="left:112px"></div>
<div class="tab" style="left:122px;color:#808080">AUDUSD-,Daily</div>
<div class="sep" style="left:220px"></div>
<div class="tab" style="left:232px;color:#808080">USDCHF-,Daily</div>
<div class="tab" style="left:339px;color:#000">USDCAD-,Daily</div>
<div class="tab" style="left:448px;color:#808080">USDCNH-,Daily</div>
<div class="sep" style="left:548px"></div>
<div class="tab" style="left:559px;color:#808080">EURCHF-,Weekly</div>
<div class="sep" style="left:668px"></div>
<div class="tab" style="left:680px;color:#808080">XAUUSD-,Weekly</div>
<div class="sep" style="left:792px"></div>
<div class="tab" style="left:803px;color:#808080">GBPUSD-,H1</div>
<div class="sep" style="left:888px"></div>
<div class="tab" style="left:899px;color:#808080">UKOil-,H1</div>
<div class="sep" style="left:968px"></div>
<div class="tab" style="left:978px;color:#808080">USDX-,Weekly</div>
<div class="sep" style="left:1072px"></div>
<div class="tab" style="left:1082px;color:#808080">EURCHF-,H1</div>
<div class="sep" style="left:1164px"></div>
<div class="tab" style="left:1176px;color:#808080">USOil-,H1</div>
<div class="sep" style="left:1245px"></div>
<svg class="a" style="left:1433px;top:828px" width="5" height="7"><polygon points="4,0 4,6 0.5,3" fill="#909090"/></svg>
<svg class="a" style="left:1453px;top:828px" width="5" height="7"><polygon points="0,0 0,6 3.5,3" fill="#909090"/></svg>
</body></html>
